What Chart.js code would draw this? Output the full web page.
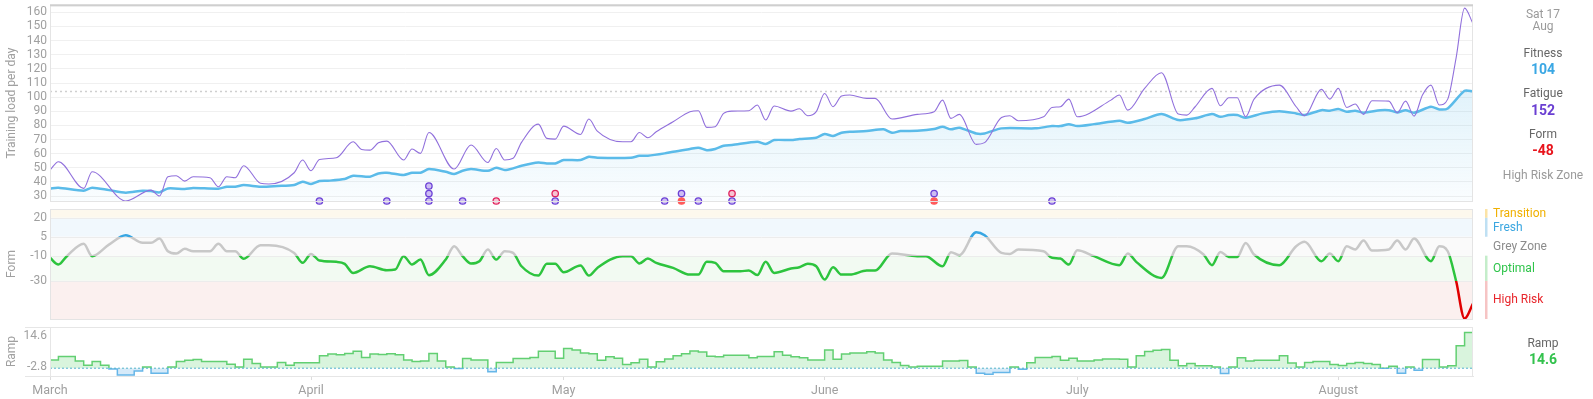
<!DOCTYPE html>
<html>
<head>
<meta charset="utf-8">
<title>Fitness, fatigue, form and ramp</title>
<script src="https://cdn.jsdelivr.net/npm/chart.js@4/dist/chart.umd.min.js"></script>
<style>
  html, body { margin: 0; padding: 0; background: #fff; }
  #page { position: relative; width: 1593px; height: 399px; overflow: hidden; font-family: Roboto, 'Open Sans', sans-serif; }
  #page canvas { position: absolute; left: 0; }
  .side { position: absolute; left: 1488px; width: 110px; text-align: center; font-size: 12px; line-height: 14px; color: #666; white-space: nowrap; }
  .side.dim { color: #9a9a9a; }
  .side.val { font-size: 14px; font-weight: bold; }
</style>
</head>
<body>
<div id="page">
  <canvas id="load" width="1593" height="207" style="top:0"></canvas>
  <canvas id="form" width="1593" height="120" style="top:205px"></canvas>
  <canvas id="ramp" width="1593" height="77" style="top:322px"></canvas>

  <div class="side dim" style="top:8px;line-height:12px">Sat 17<br>Aug</div>
  <div class="side" style="top:46px">Fitness</div>
  <div class="side val" id="fitnessNow" style="top:62px;color:#3aa7e4"></div>
  <div class="side" style="top:86px">Fatigue</div>
  <div class="side val" id="fatigueNow" style="top:103px;color:#6a3fd2"></div>
  <div class="side" style="top:127px">Form</div>
  <div class="side val" id="formNow" style="top:143px;color:#e8141c"></div>
  <div class="side dim" style="top:168px">High Risk Zone</div>
  <div class="side" style="top:336px">Ramp</div>
  <div class="side val" id="rampNow" style="top:352px;color:#33c24d"></div>
</div>

<script>
/* ---- data: x = days since 1 March ---- */
const monthStarts = [0, 31, 61, 92, 122, 153];
const monthLabels = ['March', 'April', 'May', 'June', 'July', 'August'];
const lastDay = 169;

const fitnessDays = [0,1,4,5,7,9,11,12,13,14,16,17,20,21,22,23,25,27,29,30,
  31,32,33,35,36,38,39,40,42,43,44,45,47,48,49,50,52,53,54,55,
  56,58,59,60,61,63,64,65,69,70,71,73,74,76,77,78,79,80,81,84,
  85,86,88,89,91,92,93,94,95,97,99,100,101,103,105,106,107,108,110,111,
  113,117,119,120,121,122,124,127,128,130,132,134,136,138,139,140,141,142,144,146,
  148,149,151,152,153,154,155,156,158,159,160,161,162,164,165,166,168,169];
const fitnessLoad = [35.4,35.9,33.8,35.9,34.2,32.4,33.8,33.5,32.6,35.4,35,35.7,35.2,36.6,36.6,37.8,36.6,37.1,37.8,40.1,
  38.5,40.6,40.8,42,44.4,43.7,46,46.5,44.9,46.5,46.5,49.1,47.2,45.6,47.9,49.1,47.9,50,48.4,49.6,
  51.5,53.8,53.1,53.1,55.5,55.5,57.8,57.1,57.1,58.5,58.5,60.2,61.4,63.3,64.2,62.5,63.3,65.6,66.1,68.4,
  66.8,69.6,69.6,70.3,71.3,73.9,72.5,74.8,75.5,76,77.2,74.8,76,76.2,77.4,79.1,77.2,78.4,74.3,74.3,
  77.9,77.9,79.5,79.5,80.9,79.5,80.9,83.3,81.8,84.5,88,83.8,85,88,86.1,87.3,87.3,85.4,88.5,90.1,
  88.5,87.3,90.8,90.4,91.6,89.7,90.4,89,90.8,90.8,89.2,90.8,89,93.2,91.3,92,104.5,104];

const fatigueDays = [0,1,4,5,9,12,13,14,15,16,17,19,20,21,22,23,25,26,29,30,
  31,32,34,36,37,38,39,40,42,43,44,45,48,50,52,53,54,55,56,58,
  59,60,61,63,64,65,68,69,70,71,72,74,76,77,78,79,80,81,83,84,
  85,86,88,89,90,91,92,93,94,95,97,98,100,103,105,106,107,108,110,111,
  113,114,115,118,119,120,121,122,126,127,128,130,132,134,135,136,138,139,140,141,
  142,143,146,148,149,151,152,153,154,155,156,157,159,160,161,162,163,164,165,166,
  167,168,169];
const fatigueLoad = [48.4,54.3,35.4,47.2,26.5,34.2,30,43.7,44.4,40.6,43.7,43,36.6,43.7,43,51.5,39,38.5,46.5,55.5,
  47.9,55.9,57.1,68.4,63,62.5,67.7,68.9,55.5,63.3,60.2,75,49.1,66.1,53.8,63.7,55.5,56.7,68,80.9,
  70.8,70.3,79.5,73.6,84.5,76,68.4,68.4,75,71.3,75.5,82.6,89.7,90.4,78.6,79.1,88.5,90.1,90.4,94.4,
  83.8,93.7,90.1,91.8,86.8,89.7,102.6,93.2,100.8,101.5,99.1,99.1,84.5,87.8,89.7,97.9,85,87.8,66.6,67.8,
  85.6,86.8,83.3,86.1,92.7,93.2,98.6,86.1,97.9,101.5,90.8,106.2,117.3,88,87.3,93.2,106.2,93.9,99.6,99.6,
  86.1,98.6,108.5,93.2,86.8,105.5,98.6,106.2,92.7,95.1,87.8,97.5,97.2,89,97.2,86.6,101.5,108.5,94.4,98.6,
  128,163,152];

const formDays = [0,1,2,4,5,7,9,11,12,13,14,15,16,17,19,20,21,22,23,25,
  26,29,30,31,32,34,35,36,38,40,41,42,43,44,45,47,48,49,50,51,
  52,53,54,55,56,58,59,60,61,63,64,65,68,69,70,71,72,74,76,77,
  78,79,80,82,83,84,85,86,88,89,90,91,92,93,94,95,97,98,100,103,
  104,106,107,108,110,111,113,114,115,118,119,120,121,122,124,127,128,129,132,134,
  135,137,138,139,140,141,142,143,146,148,149,151,152,153,154,155,156,157,159,160,
  161,162,164,165,166,167,168,169];
const formValues = [-11.7,-17,-10.4,-0.6,-10.4,-1.2,6.2,0.2,0.2,3.6,-6.5,-8.3,-4.6,-6.5,-6.5,-0.6,-6.5,-6.5,-12.5,-1.7,
  -1.7,-7.8,-15.7,-8.6,-13.9,-14.9,-16.5,-23.7,-18.4,-21.5,-21,-10.4,-17,-13.1,-25.5,-13.1,-2.5,-10.4,-16.2,-14.4,
  -5.1,-13.1,-6.5,-7.8,-18.4,-25.8,-16.5,-16.5,-23.1,-17.8,-25.8,-19.7,-10.4,-10.4,-16.2,-12.3,-15.7,-19.7,-25,-25,
  -14.9,-15.7,-22.3,-22.3,-21.8,-25.4,-14.9,-23.7,-20.2,-19.2,-16.5,-18.4,-28.9,-19.2,-25,-25,-21.8,-21.8,-8.3,-10.4,
  -10.4,-18.4,-7.2,-9.6,8.6,6.2,-7.8,-8.6,-5.1,-6.5,-11.7,-12.3,-17,-5.7,-10.4,-17.5,-8.3,-14.9,-27.6,-2.5,
  -2.5,-9.1,-17.5,-7,-11,-11,0.1,-9.1,-17.5,-2.5,1,-14.4,-8.3,-14.4,-2.5,-5.1,2,-5.9,-5.1,2,
  -5.1,3.6,-14.4,-2.5,-6.5,-30.3,-59.9,-48];

const rampDays = [0,1,3,4,5,6,7,8,10,11,12,14,15,16,17,18,21,22,23,24,
  25,27,28,29,32,33,34,35,36,37,38,39,40,41,42,43,44,45,46,47,
  48,49,50,52,53,55,57,58,60,61,62,63,64,65,66,67,68,69,70,71,
  72,73,74,75,76,77,78,79,80,83,84,86,87,88,89,90,92,93,94,95,
  97,98,99,100,101,102,103,106,108,109,110,111,112,114,115,116,117,119,120,121,
  122,124,125,127,128,129,130,131,132,133,134,135,136,138,139,140,141,142,143,146,
  147,148,149,150,152,153,154,155,156,157,158,159,160,161,162,163,165,166,167,168,
  169];
const rampValues = [3.4,4.8,3.0,1.2,2.7,1.2,-0.3,-2.8,-1.1,0.5,-2.1,0.5,2.7,3.3,3.6,2.7,1.6,0.5,3.7,1.9,
  0.5,2.3,1.2,2.2,5.1,5.8,5.5,6.0,7.0,4.4,5.8,5.6,5.9,5.5,3.4,2.7,3.0,6.0,3.0,0.5,
  -0.1,4.0,3.4,-1.5,2.3,4.0,4.4,7.0,4.1,8.1,7.5,6.2,5.9,3.3,4.7,4.1,1.5,2.2,3.7,0.5,
  2.6,3.8,5.1,5.9,7.1,6.6,4.9,4.7,5.3,4.3,4.8,6.7,5.3,4.7,4.3,3.4,7.5,3.7,5.8,6.2,
  6.7,6.2,3.4,2.3,1.1,0.5,0.8,3.0,3.2,0.5,-2.1,-2.5,-1.8,0.5,-0.4,2.2,4.4,4.8,3.3,4.1,
  3.0,3.4,3.8,3.7,0.5,5.1,6.9,7.4,7.7,3.3,1.0,1.9,1.0,0.5,-2.2,0.5,4.3,3.0,3.3,5.1,
  2.1,0.5,2.3,2.7,1.5,1.1,1.9,2.3,1.9,1.5,0,0.8,-2.1,0.5,-0.8,3.6,0.5,1.0,9.2,14.6,
  14.6];

// activity dots under the load chart, stacked when a day has several
const markerDays  = [32, 40, 45, 45, 45, 49, 53, 60, 60, 73, 75, 75, 77, 81, 81, 105, 105, 119];
const markerKinds = ['ride','ride','ride','ride','ride','ride','note','ride','note','ride','race','ride','ride','ride','note','race','ride','ride'];

const formTicks = [20, 5, -10, -30];
const zoneNames = ['Transition', 'Fresh', 'Grey Zone', 'Optimal', 'High Risk'];
const zoneFloors = [20, 5, -10, -30];   // lower edge of each zone, top to bottom

/* ---- styles ---- */
const FONT = 'Roboto';
const TICK = '#a0a0a0';
const FIT = '#5bbbe9';
const FAT = '#9170dc';
const zoneLine  = ['#f0b400', '#38a6e2', '#c8c8c8', '#2dc43e', '#e00000'];
const zoneFill  = ['#fdf8ed', '#f1f8fd', '#fafafa', '#f2faf2', '#fbf0ef'];
const zoneBar   = ['#fbe3a6', '#bfe0f3', 'rgba(0,0,0,0)', '#c4edca', '#f6c4c4'];
const zoneText  = ['#f0b000', '#3aa6e0', '#8c8c8c', '#2ec44a', '#e8262c'];
const markerStyle = {
  ride: { fill: '#cdbdf3', stroke: '#6c42d6' },
  note: { fill: '#f7c3d2', stroke: '#e0245e' },
  race: { fill: '#ff5b5b', stroke: '#ff5b5b' },
};
const LOAD_MIN = 26.5, LOAD_MAX = 165, MARKER_STEP = 5.3;

const pts = (xs, ys) => xs.map((x, i) => ({ x, y: ys[i] }));

const markerPoints = [];
const stackCount = {};
markerDays.forEach((d, i) => {
  const k = stackCount[d] || 0;
  stackCount[d] = k + 1;
  markerPoints.push({ x: d, y: LOAD_MIN + k * MARKER_STEP, kind: markerKinds[i] });
});

const rampMax = Math.max(...rampValues), rampMin = Math.min(...rampValues);

document.getElementById('fitnessNow').textContent = Math.round(fitnessLoad[fitnessLoad.length - 1]);
document.getElementById('fatigueNow').textContent = Math.round(fatigueLoad[fatigueLoad.length - 1]);
document.getElementById('formNow').textContent = Math.round(formValues[formValues.length - 1]);
document.getElementById('rampNow').textContent = rampValues[rampValues.length - 1].toFixed(1);

/* ---- helpers ---- */
function fixedYAxis(scale) {
  scale.width = 50;
  scale.paddingTop = 0;
  scale.paddingBottom = 0;
}

function hiddenX() {
  return { type: 'linear', min: 0, max: lastDay, display: false };
}

function yTitle(text) {
  return { display: true, text, color: TICK, font: { family: FONT, size: 12 }, padding: { top: 5, bottom: 0 } };
}

const tickFont = { family: FONT, size: 12 };

// light box round the plot area, with optional extras
const framePlugin = {
  id: 'frame',
  afterDraw(chart, args, opts) {
    const { ctx, chartArea: a } = chart;
    ctx.save();
    ctx.lineWidth = 1;
    ctx.strokeStyle = opts.color || '#e6e6e6';
    ctx.strokeRect(a.left + 0.5, a.top + 0.5, a.right - a.left - 1, a.bottom - a.top);
    if (opts.topColor) {
      ctx.strokeStyle = opts.topColor;
      ctx.lineWidth = 2;
      ctx.beginPath();
      ctx.moveTo(a.left, a.top);
      ctx.lineTo(a.right, a.top);
      ctx.stroke();
    }
    if (opts.leftExtend) {
      ctx.strokeStyle = opts.color || '#e6e6e6';
      ctx.lineWidth = 1;
      ctx.beginPath();
      ctx.moveTo(a.left - opts.leftExtend, a.top + 0.5);
      ctx.lineTo(a.left, a.top + 0.5);
      ctx.moveTo(a.left - opts.leftExtend, a.bottom + 0.5);
      ctx.lineTo(a.left, a.bottom + 0.5);
      ctx.stroke();
    }
    ctx.restore();
  }
};

// form zone bands, plus the zone key at the right
const zonePlugin = {
  id: 'zones',
  beforeDatasetsDraw(chart) {
    const { ctx, chartArea: a, scales: { y } } = chart;
    const edges = [y.max, ...zoneFloors, y.min];
    ctx.save();
    for (let i = 0; i < zoneNames.length; i++) {
      const top = y.getPixelForValue(edges[i]);
      const bot = y.getPixelForValue(edges[i + 1]);
      ctx.fillStyle = zoneFill[i];
      ctx.fillRect(a.left, top, a.right - a.left, bot - top);
    }
    ctx.strokeStyle = '#ececec';
    ctx.lineWidth = 1;
    zoneFloors.forEach(v => {
      const py = Math.round(y.getPixelForValue(v)) + 0.5;
      ctx.beginPath();
      ctx.moveTo(a.left, py);
      ctx.lineTo(a.right, py);
      ctx.stroke();
    });
    ctx.restore();
  },
  afterDraw(chart) {
    const { ctx, chartArea: a, scales: { y } } = chart;
    const edges = [y.max, ...zoneFloors, y.min];
    ctx.save();
    ctx.font = '12px ' + FONT;
    ctx.textAlign = 'left';
    ctx.textBaseline = 'middle';
    for (let i = 0; i < zoneNames.length; i++) {
      const top = y.getPixelForValue(edges[i]);
      const bot = y.getPixelForValue(edges[i + 1]);
      ctx.fillStyle = zoneBar[i];
      ctx.fillRect(a.right + 12, top, 2.5, bot - top);
      ctx.fillStyle = zoneText[i];
      ctx.fillText(zoneNames[i], a.right + 20, (top + bot) / 2 + 0.5);
    }
    ctx.restore();
  }
};

function formGradient(c) {
  const chart = c.chart;
  const a = chart.chartArea;
  if (!a) return zoneLine[3];
  const y = chart.scales.y;
  const h = a.bottom - a.top;
  const f = v => Math.min(1, Math.max(0, (y.getPixelForValue(v) - a.top) / h));
  const g = chart.ctx.createLinearGradient(0, a.top, 0, a.bottom);
  let start = 0;
  for (let i = 0; i < zoneNames.length; i++) {
    const end = i < zoneFloors.length ? f(zoneFloors[i]) : 1;
    g.addColorStop(start, zoneLine[i]);
    g.addColorStop(end, zoneLine[i]);
    start = end;
  }
  return g;
}

function rampGradient(c, above, below) {
  const chart = c.chart;
  const a = chart.chartArea;
  if (!a) return above;
  const z = Math.min(1, Math.max(0, (chart.scales.y.getPixelForValue(0) - a.top) / (a.bottom - a.top)));
  const g = chart.ctx.createLinearGradient(0, a.top, 0, a.bottom);
  g.addColorStop(0, above);
  g.addColorStop(z, above);
  g.addColorStop(z, below);
  g.addColorStop(1, below);
  return g;
}

const common = {
  responsive: false,
  animation: false,
  events: [],
  plugins: { legend: { display: false }, tooltip: { enabled: false } },
};

/* ---- training load ---- */
new Chart(document.getElementById('load'), {
  type: 'line',
  data: {
    datasets: [
      {
        data: markerPoints,
        showLine: false,
        clip: false,
        order: 0,
        pointRadius: 3.2,
        pointBorderWidth: 1.3,
        pointBackgroundColor: c => markerStyle[c.raw.kind].fill,
        pointBorderColor: c => markerStyle[c.raw.kind].stroke,
      },
      {
        data: pts(fatigueDays, fatigueLoad),
        borderColor: FAT,
        borderWidth: 1.1,
        pointRadius: 0,
        cubicInterpolationMode: 'monotone',
        order: 1,
      },
      {
        data: pts(fitnessDays, fitnessLoad),
        borderColor: FIT,
        borderWidth: 2.5,
        pointRadius: 0,
        tension: 0.25,
        fill: 'start',
        backgroundColor: c => {
          const a = c.chart.chartArea;
          if (!a) return 'rgba(91,187,233,0.1)';
          const g = c.chart.ctx.createLinearGradient(0, a.top, 0, a.bottom);
          g.addColorStop(0, 'rgba(91,187,233,0.30)');
          g.addColorStop(1, 'rgba(91,187,233,0.03)');
          return g;
        },
        order: 2,
      },
      {
        data: [{ x: 0, y: fitnessLoad[fitnessLoad.length - 1] }, { x: lastDay, y: fitnessLoad[fitnessLoad.length - 1] }],
        borderColor: '#cfcfcf',
        borderWidth: 1.5,
        borderDash: [2, 3],
        pointRadius: 0,
        order: 3,
      },
    ],
  },
  options: {
    ...common,
    layout: { padding: { top: 5, bottom: 6, left: 0, right: 120 } },
    plugins: { ...common.plugins, frame: { color: '#e4e4e4', topColor: '#cfcfcf' } },
    scales: {
      x: hiddenX(),
      y: {
        min: LOAD_MIN, max: LOAD_MAX,
        afterFit: fixedYAxis,
        ticks: { stepSize: 10, includeBounds: false, autoSkip: false, color: TICK, font: tickFont, padding: 3 },
        grid: { color: '#f0f0f0', drawTicks: false },
        border: { display: false },
        title: yTitle('Training load per day'),
      },
    },
  },
  plugins: [framePlugin],
});

/* ---- form ---- */
new Chart(document.getElementById('form'), {
  type: 'line',
  data: {
    datasets: [{
      data: pts(formDays, formValues),
      borderColor: formGradient,
      borderWidth: 2.5,
      pointRadius: 0,
      cubicInterpolationMode: 'monotone',
    }],
  },
  options: {
    ...common,
    layout: { padding: { top: 4, bottom: 6, left: 0, right: 120 } },
    plugins: { ...common.plugins, frame: { color: '#e4e4e4' } },
    scales: {
      x: hiddenX(),
      y: {
        min: -60.2, max: 27,
        afterFit: fixedYAxis,
        afterBuildTicks: s => { s.ticks = formTicks.map(value => ({ value })); },
        ticks: { autoSkip: false, color: TICK, font: tickFont, padding: 3 },
        grid: { display: false, drawTicks: false },
        border: { display: false },
        title: yTitle('Form'),
      },
    },
  },
  plugins: [zonePlugin, framePlugin],
});

/* ---- ramp ---- */
const rampLabels = [rampMax.toFixed(1), rampMin.toFixed(1)];
new Chart(document.getElementById('ramp'), {
  type: 'line',
  data: {
    datasets: [
      {
        data: [{ x: 0, y: 0 }, { x: lastDay, y: 0 }],
        borderColor: '#55b2cc',
        borderWidth: 1,
        borderDash: [2, 2],
        pointRadius: 0,
        order: 0,
      },
      {
        data: pts(rampDays, rampValues),
        stepped: true,
        borderColor: c => rampGradient(c, '#62cf72', '#66b6e8'),
        borderWidth: 1.5,
        pointRadius: 0,
        fill: { target: { value: 0 }, above: 'rgba(80,205,100,0.22)', below: 'rgba(90,170,230,0.25)' },
        order: 1,
      },
    ],
  },
  options: {
    ...common,
    layout: { padding: { top: 5, bottom: 0, left: 0, right: 120 } },
    plugins: { ...common.plugins, frame: { color: '#e6e6e6', leftExtend: 25 } },
    scales: {
      x: {
        type: 'linear', min: 0, max: lastDay,
        afterBuildTicks: s => { s.ticks = monthStarts.map(value => ({ value })); },
        afterFit: s => { s.height = 23; s.paddingLeft = 0; s.paddingRight = 0; },
        ticks: {
          autoSkip: false, maxRotation: 0, padding: 3,
          color: TICK, font: { family: FONT, size: 12.5 },
          callback: (v, i) => monthLabels[i],
        },
        grid: { drawOnChartArea: false, drawTicks: true, tickLength: 4, color: '#dcdcdc' },
        border: { color: '#e6e6e6' },
      },
      y: {
        min: -3.2, max: 16.9,
        afterFit: fixedYAxis,
        // labels sit just inside the panel, like the original
        afterBuildTicks: s => { s.ticks = [{ value: rampMax - 1.4 }, { value: rampMin + 3.2 }]; },
        ticks: { autoSkip: false, color: TICK, font: tickFont, padding: 3, callback: (v, i) => rampLabels[i] },
        grid: { display: false, drawTicks: false },
        border: { display: true, color: '#dddddd' },
        title: yTitle('Ramp'),
      },
    },
  },
  plugins: [framePlugin],
});
</script>
</body>
</html>
